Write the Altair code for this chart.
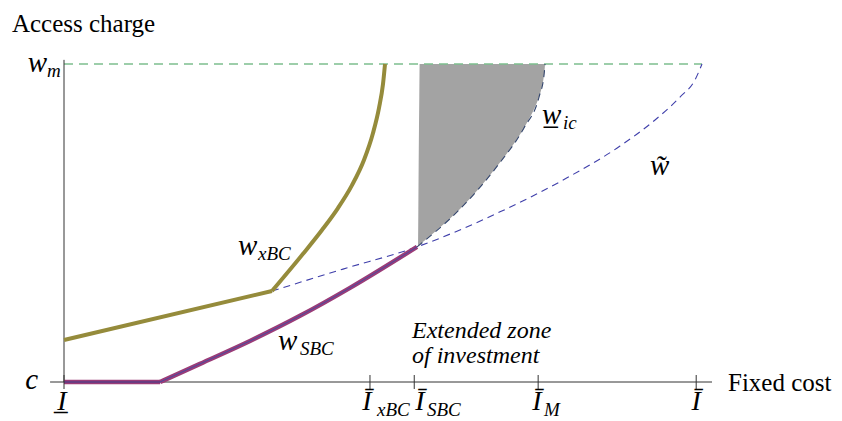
import altair as alt
import pandas as pd

# ---------------- data (x: fixed cost, Ī = 10 ; y: access charge, c = 0, w_m = 1)
X_MAX = 10.25
PLOT_W, PLOT_H = 648, 318
PX_Y = 1.0 / PLOT_H

# w_SBC: flat part then rising curve
sbc_flat_x = [0.0, 1.519]
sbc_flat_y = [0.0, 0.0]
sbc_x = [1.519, 2.151, 2.942, 3.733, 4.524, 5.584]
sbc_y = [0.0, 0.057, 0.129, 0.208, 0.296, 0.425]

# w_xBC: straight part then steep curve up to w_m
xbc_lin_x = [0.0, 3.29]
xbc_lin_y = [0.132, 0.286]
xbc_x = [3.290, 3.781, 4.081, 4.334, 4.556, 4.745, 4.888, 4.983, 5.046, 5.078]
xbc_y = [0.286, 0.403, 0.478, 0.547, 0.619, 0.698, 0.783, 0.862, 0.937, 1.0]

# w tilde (dashed)
wt_x = [3.290, 4.413, 5.584, 6.897, 7.957, 8.795, 9.349, 9.744, 9.981, 10.092]
wt_y = [0.286, 0.355, 0.425, 0.535, 0.642, 0.742, 0.824, 0.896, 0.950, 1.0]

# underline w_ic (dashed) and the shaded extended zone
wic_x = [5.584, 6.264, 6.865, 7.276, 7.514, 7.593, 7.609]
wic_y = [0.425, 0.544, 0.682, 0.799, 0.896, 0.965, 1.0]
zone_left = [5.60, 5.605, 5.61, 5.615, 5.62, 5.623, 5.625]

# axis ticks
tick_x = [0.0, 4.84, 5.54, 7.5, 10.0]

# labels: text, x, baseline y, font size, align, italic
lab_text = ["I\u0332", "\u012A", "\u012A", "\u012A", "\u012A",
            "m", "xBC", "SBC", "M", "xBC", "SBC", "ic",
            "w", "w", "w\u0332", "w\u0303",
            "w", "c",
            "Access charge", "Fixed cost",
            "Extended zone", "of investment"]
lab_x = [-0.032, 4.793, 5.631, 7.482, 10.0,
         -0.269, 4.951, 5.742, 7.593, 3.069, 3.733, 7.893,
         2.752, 3.385, 7.561, 9.269,
         -0.269, -0.411,
         -0.823, 10.503,
         5.505, 5.505]
lab_y = [-0.088, -0.088, -0.088, -0.088, -0.088,
         0.959, -0.107, -0.107, -0.107, 0.384, 0.085, 0.796,
         0.399, 0.101, 0.811, 0.651,
         0.975, -0.022,
         1.101, -0.028,
         0.138, 0.060]
lab_size = [28] * 5 + [19] * 7 + [29] * 4 + [29] * 2 + [25] * 2 + [24] * 2
lab_align = ["center"] * 5 + ["left"] * 7 + ["left"] * 4 + ["right"] * 2 + ["left"] * 4
lab_italic = [True] * 18 + [False] * 2 + [True] * 2

# ---------------- helpers
FONT = "Times New Roman"
xs = alt.Scale(domain=[0, X_MAX], nice=False, zero=False)
ys = alt.Scale(domain=[0, 1], nice=False, zero=False)
XE = lambda f="x": alt.X(f"{f}:Q", scale=xs, axis=None)
YE = lambda f="y": alt.Y(f"{f}:Q", scale=ys, axis=None)


def df_xy(xv, yv):
    return pd.DataFrame({"x": xv, "y": yv, "i": list(range(len(xv)))})


def curve(xv, yv, color, width, dash=None, interp="linear"):
    kw = dict(color=color, strokeWidth=width, interpolate=interp, clip=False)
    if dash:
        kw["strokeDash"] = dash
    return alt.Chart(df_xy(xv, yv)).mark_line(**kw).encode(
        x=XE(), y=YE(), order="i:Q"
    )


OLIVE = "#958b3b"
PURPLE = "#9a3c78"
BLUE = "#3f3faa"
DARKBLUE = "#34466e"
GREEN = "#7dbf8e"
AXIS = "#333333"

zone = alt.Chart(pd.DataFrame({"y": wic_y, "xl": zone_left, "xr": wic_x})).mark_area(
    orient="horizontal", color="#a3a3a3", interpolate="monotone"
).encode(y=YE(), x=XE("xl"), x2="xr:Q")

green = curve([0.0, wt_x[-1]], [1.0, 1.0], GREEN, 1.5, [9, 6])
xaxis = curve([-0.22, X_MAX], [0.0, 0.0], AXIS, 1)
yaxis = curve([0.0, 0.0], [0.0, 1.013], AXIS, 1)
tick_layers = [curve([tx, tx], [-0.022, 0.022], AXIS, 1) for tx in tick_x]

wt = curve(wt_x, wt_y, BLUE, 1.1, [7, 5], "monotone")
xbc1 = curve(xbc_lin_x, xbc_lin_y, OLIVE, 4)
xbc2 = curve(xbc_x, xbc_y, OLIVE, 4, None, "monotone")
sbc1 = curve(sbc_flat_x, sbc_flat_y, PURPLE, 4.5)
sbc2 = curve(sbc_x, sbc_y, PURPLE, 4.5, None, "monotone")
sbc1c = curve(sbc_flat_x, sbc_flat_y, "#3a3a8a", 1.2)
sbc2c = curve(sbc_x, sbc_y, "#4a4aa0", 1.0, None, "monotone")
wic = curve(wic_x, wic_y, DARKBLUE, 1.1, [7, 5], "monotone")

layers = [zone, green, xaxis, yaxis, wt, xbc1, xbc2, sbc1, sbc2, sbc1c, sbc2c, wic] + tick_layers

# one text layer per label; Vega's "middle" baseline sits 0.3*size above the baseline
for t, x, y, s, a, it in zip(lab_text, lab_x, lab_y, lab_size, lab_align, lab_italic):
    kw = dict(align=a, font=FONT, fontSize=s)
    if it:
        kw["fontStyle"] = "italic"
    ymid = y + round(0.3 * s) * PX_Y
    layers.append(
        alt.Chart(pd.DataFrame({"t": [t], "x": [x], "y": [ymid]})).mark_text(**kw).encode(
            x=XE(), y=YE(), text="t:N"
        )
    )

chart = alt.layer(*layers).properties(
    width=PLOT_W,
    height=PLOT_H,
    autosize=alt.AutoSizeParams(type="none"),
    padding={"left": 56, "top": 56, "right": 122, "bottom": 39},
).configure_view(stroke=None).configure_text(font=FONT)

chart.save("out.html", embed_options={"renderer": "svg", "actions": False})
